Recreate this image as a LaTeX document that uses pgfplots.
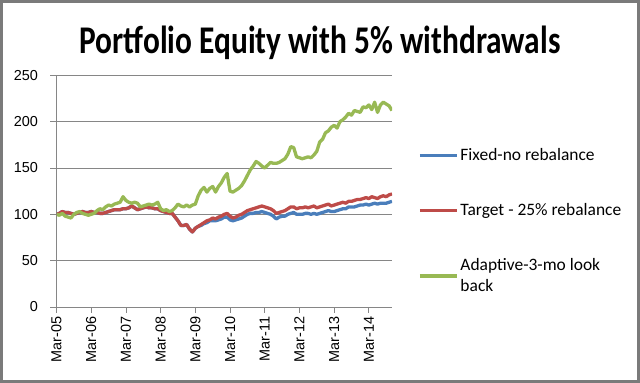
\documentclass[border=0pt]{standalone}
\usepackage{fontspec}
\setmainfont{Carlito}
\newfontfamily\arialf{Liberation Sans}
\usepackage{pgfplots}
\usepackage{pgfplotstable}
\pgfplotsset{compat=1.18}
\definecolor{sblue}{HTML}{4A7EBB}
\definecolor{sred}{HTML}{BE4B48}
\definecolor{sgreen}{HTML}{98B954}
\definecolor{gridc}{HTML}{868686}
\definecolor{framec}{HTML}{7A7A7A}
\pgfplotstableread{
i fixed target adaptive
0 100 100 100
1 101 101 99
2 103 103 101
3 102 102 98
4 102 102 97
5 101 101 96
6 100 100 100
7 101 101 102
8 102 102 103
9 103 103 101
10 102 102 100
11 102 102 99
12 103 103 100
13 102 102 101
14 102 102 104
15 101 101 106
16 101 101 105
17 102 102 108
18 103 103 110
19 104 104 109
20 105 105 111
21 105 105 112
22 105 105 113
23 106 106 119
24 106 106 115
25 107 107 113
26 109 109 112
27 107 107 113
28 105 105 112
29 106 106 108
30 107 107 109
31 108 108 110
32 107 107 111
33 107 107 110
34 106 106 111
35 106 106 113
36 104 104 106
37 103 103 104
38 102 102 105
39 101 101 103
40 101 101 104
41 97 97 107
42 93 93 111
43 88 88 109
44 88 88 108
45 89 89 110
46 84 84 108
47 81 81 110
48 85 85 111
49 87 87 120
50 88 89 126
51 90 91 129
52 91 93 124
53 93 94 128
54 93 96 130
55 93 95 124
56 94 97 130
57 95 98 134
58 97 100 140
59 97 101 144
60 94 98 125
61 93 96 124
62 94 97 126
63 95 99 128
64 96 100 131
65 98 102 136
66 100 104 142
67 101 105 148
68 101 106 152
69 102 107 157
70 102 108 155
71 103 109 152
72 102 108 150
73 101 107 153
74 100 106 156
75 98 104 155
76 95 101 155
77 97 102 156
78 98 103 158
79 98 104 160
80 100 106 165
81 101 108 173
82 102 108 172
83 100 106 162
84 100 107 161
85 100 107 160
86 101 108 161
87 101 107 162
88 100 108 161
89 101 109 164
90 100 107 168
91 101 108 178
92 102 109 181
93 103 110 188
94 104 111 190
95 103 109 194
96 103 110 196
97 104 111 193
98 105 112 200
99 106 113 202
100 106 112 205
101 108 114 209
102 108 114 207
103 108 115 212
104 109 116 211
105 110 116 210
106 110 117 216
107 111 118 215
108 110 117 218
109 111 119 213
110 112 118 221
111 111 117 210
112 112 119 218
113 112 120 221
114 112 119 219
115 113 121 217
116 114 122 212
}\data
\begin{document}
\begin{tikzpicture}
\path[use as bounding box] (0,0) rectangle (640bp,383bp);
\fill[white] (0,0) rectangle (640bp,383bp);
\draw[framec, line width=3bp] (1.5bp,1.5bp) rectangle (638.5bp,381.5bp);
\node[font=\bfseries\fontsize{31.5}{36}\selectfont, anchor=base, inner sep=0pt] at (320bp,329bp) {\scalebox{1}[1.25]{Portfolio Equity with 5\% withdrawals}};
\begin{axis}[
  at={(56.5bp,76bp)}, anchor=south west,
  scale only axis, width=335.5bp, height=231.7bp,
  xmin=0, xmax=116, ymin=0, ymax=250,
  axis x line*=bottom, axis y line*=left,
  axis line style={gridc, line width=0.8bp},
  ytick={0,50,...,250},
  xtick={0,12,...,108},
  xticklabels={Mar-05,Mar-06,Mar-07,Mar-08,Mar-09,Mar-10,Mar-11,Mar-12,Mar-13,Mar-14},
  xticklabel style={rotate=90, anchor=east, font=\arialf\fontsize{14.5}{15}\selectfont},
  yticklabel style={font=\arialf\fontsize{14.5}{15}\selectfont, xshift=-9bp},
  /pgf/number format/assume math mode=true,
  tick align=outside, major tick length=6bp,
  tick style={gridc, line width=0.8bp},
  ymajorgrids, grid style={gridc, line width=0.8bp},
  legend style={at={(1.0775,0.693)}, anchor=north west, draw=none, fill=none, inner sep=0pt,
    font=\fontsize{17.5}{21}\selectfont, row sep=37.5bp, cells={align=left}},
  legend cell align=left,
  legend image code/.code={\draw[#1] (0bp,0bp) -- (37bp,0bp);},
  every axis plot/.append style={line width=3.3bp, line join=round},
]
\addplot[sblue, no markers] table[x=i, y=fixed] {\data};
\addlegendentry{Fixed-no rebalance}
\addplot[sred, no markers] table[x=i, y=target] {\data};
\addlegendentry{Target - 25\% rebalance}
\addplot[sgreen, no markers] table[x=i, y=adaptive] {\data};
\addlegendentry{Adaptive-3-mo look\\back}
\end{axis}
\end{tikzpicture}
\end{document}
